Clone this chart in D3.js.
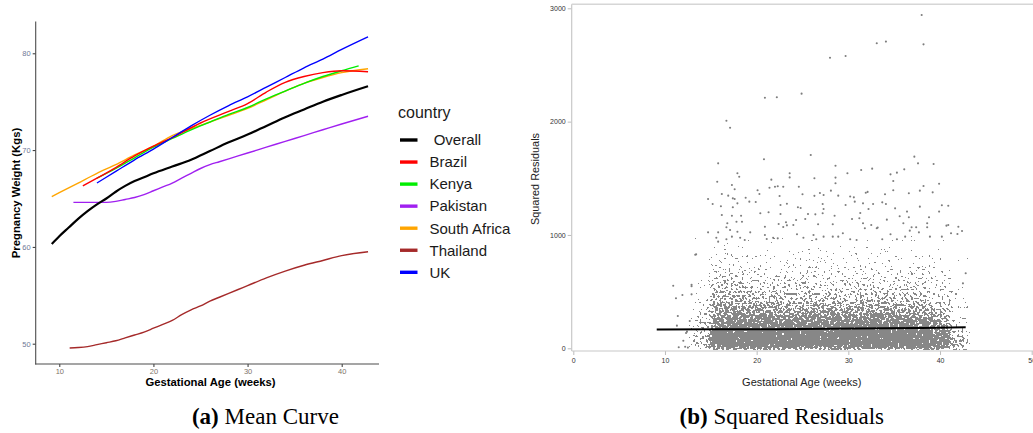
<!DOCTYPE html>
<html>
<head>
<meta charset="utf-8">
<script src="https://cdn.jsdelivr.net/npm/d3@7"></script>
<style>
body { margin: 0; background: #fff; }
svg { display: block; }
</style>
</head>
<body>
<script>
// ---- (a) mean curves: [gestational week, weight kg] ----
const overallCurve = [[9.2,60.3],[10,61.1],[11,62.0],[12,62.9],[13,63.7],[14,64.4],[15,65.0],[16,65.7],[17,66.3],[18,66.8],[19,67.2],[20,67.6],[22,68.3],[24,69.0],[26,69.9],[28,70.8],[30,71.6],[32,72.5],[34,73.4],[36,74.2],[38,75.0],[40,75.7],[42.8,76.6]];
const brazilCurve = [[12.5,66.3],[14,67.1],[16,68.2],[18,69.4],[20,70.4],[22,71.3],[25,72.8],[28,74.0],[30,74.8],[32,76.0],[34,77.0],[36,77.6],[38,78.0],[40,78.2],[42.8,78.1]];
const kenyaCurve = [[14,67.1],[16,68.1],[18,69.2],[20,70.3],[22,71.2],[24,72.1],[26,72.9],[28,73.7],[30,74.4],[32,75.3],[34,76.1],[36,76.9],[38,77.6],[40,78.2],[41.8,78.7]];
const pakistanCurve = [[11.5,64.6],[13,64.6],[15,64.6],[16,64.7],[17,64.9],[18,65.1],[19,65.4],[20,65.8],[21,66.2],[22,66.6],[23,67.1],[24,67.6],[25,68.1],[26,68.5],[27,68.8],[28,69.1],[30,69.7],[32,70.3],[34,70.9],[36,71.5],[38,72.1],[40,72.7],[42.8,73.5]];
const southAfricaCurve = [[9.2,65.2],[10,65.6],[12,66.6],[14,67.6],[16,68.5],[18,69.5],[20,70.4],[22,71.5],[24,72.2],[26,72.9],[28,73.6],[30,74.3],[32,75.2],[34,76.1],[36,76.9],[38,77.5],[40,78.0],[42.8,78.4]];
const thailandCurve = [[11.1,49.55],[12,49.6],[13,49.7],[14,49.9],[15,50.1],[16,50.3],[17,50.6],[18,50.9],[19,51.2],[20,51.6],[21,52.0],[22,52.4],[23,53.0],[24,53.5],[25,53.9],[26,54.4],[27,54.8],[28,55.2],[29,55.6],[30,56.0],[32,56.8],[34,57.5],[36,58.1],[38,58.6],[40,59.1],[42.8,59.5]];
const ukCurve = [[14,66.6],[16,67.8],[18,69.0],[20,70.1],[22,71.3],[24,72.5],[26,73.6],[28,74.6],[30,75.5],[32,76.5],[34,77.5],[36,78.5],[38,79.4],[40,80.4],[42.8,81.7]];

const countryNames = [" Overall", "Brazil", "Kenya", "Pakistan", "South Africa", "Thailand", "UK"];
const countryCurves = [overallCurve, brazilCurve, kenyaCurve, pakistanCurve, southAfricaCurve, thailandCurve, ukCurve];
const countryColors = ["#000000", "#ff0000", "#00ee00", "#a020f0", "#ffa500", "#a52a2a", "#0000ff"];
const meanXTicks = [10, 20, 30, 40];
const meanYTicks = [50, 60, 70, 80];

// ---- (b) squared residuals ----
// density of the dense cloud: 2-week bins x 100-unit bands
const densityBinStarts = [13, 15, 17, 19, 21, 23, 25, 27, 29, 31, 33, 35, 37, 39, 41];
const densityBands = [0, 100, 200, 300, 400, 500, 600, 700, 800, 900];
const densityRows = [
  [0.42,0.92,0.95,0.95,0.95,0.95,0.95,0.95,0.95,0.95,0.95,0.95,0.95,0.90,0.50],
  [0.32,0.86,0.90,0.90,0.90,0.90,0.90,0.90,0.90,0.90,0.90,0.90,0.88,0.76,0.32],
  [0.25,0.72,0.76,0.76,0.76,0.72,0.76,0.76,0.72,0.76,0.76,0.72,0.70,0.54,0.20],
  [0.18,0.58,0.58,0.55,0.55,0.52,0.54,0.54,0.52,0.55,0.55,0.52,0.52,0.40,0.13],
  [0.13,0.46,0.46,0.41,0.41,0.38,0.41,0.39,0.37,0.41,0.41,0.38,0.39,0.28,0.10],
  [0.10,0.40,0.36,0.30,0.30,0.28,0.30,0.29,0.28,0.29,0.30,0.28,0.29,0.21,0.08],
  [0.07,0.27,0.25,0.22,0.22,0.20,0.22,0.21,0.20,0.21,0.22,0.21,0.21,0.15,0.06],
  [0.05,0.18,0.18,0.15,0.15,0.14,0.14,0.14,0.13,0.14,0.14,0.14,0.14,0.11,0.04],
  [0.03,0.11,0.11,0.10,0.10,0.09,0.09,0.09,0.09,0.09,0.09,0.09,0.09,0.07,0.03],
  [0.02,0.06,0.06,0.05,0.05,0.05,0.05,0.05,0.05,0.05,0.05,0.05,0.05,0.04,0.02]
];
// individual points outside the dense cloud: [week, squared residual]
const outlierPoints = [
  [38.0,2941],[38.2,2682],[33.1,2691],[34.1,2706],[28.0,2564],[29.7,2579],[20.9,2211],[22.2,2215],[24.9,2247],[16.7,2008],[17.1,1946],
  [15.8,1632],[20.8,1668],[25.9,1706],[37.2,1691],[37.6,1632],[39.3,1626],
  [17.9,1544],[18.1,1514],[15.7,1470],[23.6,1544],[23.6,1508],[26.3,1500],[28.6,1611],[28.6,1506],[28.6,1456],[29.9,1544],[31.4,1573],[32.6,1585],[34.6,1535],[35.3,1550],[36.1,1579],[34.9,1476],[39.9,1452],[21.6,1488],
  [17.3,1441],[17.6,1403],[16.2,1362],[16.9,1347],[17.4,1323],[18.8,1329],[20.1,1394],[20.3,1362],[21.4,1417],[22.0,1425],[22.3,1430],[22.9,1426],[22.5,1344],[24.6,1426],[25.0,1359],[26.3,1345],[26.9,1370],[27.3,1352],[28.1,1391],[28.9,1347],[30.2,1340],[31.9,1372],[32.1,1380],[34.0,1359],[34.9,1394],[36.6,1368],[37.8,1391],[38.2,1432],[39.2,1376],
  [14.7,1317],[15.2,1273],[16.1,1253],[17.4,1244],[17.6,1317],[17.9,1279],[19.2,1294],[19.9,1291],[22.6,1264],[23.3,1276],[24.5,1244],[24.8,1238],[27.2,1273],[27.3,1229],[29.7,1264],[30.6,1332],[30.7,1294],[31.6,1279],[32.7,1273],[32.2,1229],[33.7,1288],[34.1,1273],[35.1,1235],[36.4,1206],[37.8,1250],[39.9,1206],[40.2,1262],[40.9,1258],
  [16.2,1176],[17.3,1170],[18.3,1170],[17.8,1117],[16.8,1103],[18.4,1117],[20.4,1191],[21.3,1200],[22.6,1185],[25.6,1185],[26.4,1182],[27.2,1191],[24.3,1132],[25.3,1141],[28.5,1170],[30.4,1141],[31.2,1147],[31.3,1194],[34.2,1135],[35.6,1165],[36.6,1156],[38.8,1156],
  [22.4,1097],[22.9,1070],[23.2,1112],[23.3,1085],[24.0,1088],[26.7,1094],[28.3,1094],[31.6,1103],[32.5,1088],[33.1,1059],[36.0,1103],[38.6,1103],[38.6,1068],[37.4,1068],[40.7,1082],[42.0,1073],[40.9,1088],[41.9,1008],
  [14.7,1023],[15.8,1023],[16.7,1068],[17.1,1044],[17.9,1029],[17.3,985],[18.2,976],[18.7,956],[19.3,1023],[15.6,976],[15.8,941],[16.7,962],[20.9,1073],[20.9,1000],[21.1,964],[21.8,976],[22.3,970],[24.4,1006],[25.1,976],[26.2,1000],[26.5,962],[27.3,985],[28.3,985],[28.9,985],[29.4,1015],[30.2,962],[30.9,956],[31.8,1059],[33.2,1065],[33.7,962],[34.6,1006],[35.3,962],[36.2,985],[36.7,1038],[36.9,1068],[37.7,1023],[38.9,985],[40.2,985],[41.2,1015],[42.4,1035],
  [13.4,829],[10.9,552],[11.2,441],[11.9,470],[12.9,560],[12.9,548],[12.9,476],[11.4,285],[11.3,200],[12.7,241],[12.4,147],[12.0,67],[12.3,135],[11.5,9],[12.2,14],[12.5,6],[13.3,826],[42.8,662],[42.5,573]
];
const trendLine = [[9.1,165],[16,167],[22,169],[28,172],[34,176],[38,180],[42.8,185]];
const residXTicks = [0, 10, 20, 30, 40, 50];
const residYTicks = [0, 1000, 2000, 3000];

const svg = d3.select("body").append("svg")
  .attr("width", 1033)
  .attr("height", 433)
  .style("font-family", "'Liberation Sans', Arial, sans-serif");

// ================= panel (a) =================
const xL = d3.scaleLinear().domain([10, 40]).range([59.3, 341.7]);
const yL = d3.scaleLinear().domain([50, 80]).range([343.7, 53.3]);

const axL = svg.append("g").attr("transform", "translate(35.7,0)")
  .call(d3.axisLeft(yL).tickValues(meanYTicks).tickSize(3).tickPadding(2));
axL.select(".domain").remove();
axL.selectAll("line").attr("stroke", "#333");
axL.selectAll("text").attr("font-size", 7.5).attr("fill", "#6f7896")
  .attr("font-family", "'Liberation Sans', Arial, sans-serif");

const axB = svg.append("g").attr("transform", "translate(0,364)")
  .call(d3.axisBottom(xL).tickValues(meanXTicks).tickSize(3).tickPadding(2));
axB.select(".domain").remove();
axB.selectAll("line").attr("stroke", "#333");
axB.selectAll("text").attr("font-size", 7.5).attr("fill", "#7e7468")
  .attr("font-family", "'Liberation Sans', Arial, sans-serif");

svg.append("line").attr("x1", 35.7).attr("x2", 35.7).attr("y1", 21.5).attr("y2", 364.5)
  .attr("stroke", "#4d4d4d").attr("stroke-width", 1.1);
svg.append("line").attr("x1", 35.2).attr("x2", 379).attr("y1", 364).attr("y2", 364)
  .attr("stroke", "#4d4d4d").attr("stroke-width", 1.1);

const lineL = d3.line().x(d => xL(d[0])).y(d => yL(d[1])).curve(d3.curveMonotoneX);
const drawOrder = [5, 3, 4, 2, 1, 6, 0];
drawOrder.forEach(i => {
  svg.append("path")
    .datum(countryCurves[i])
    .attr("d", lineL)
    .attr("fill", "none")
    .attr("stroke", countryColors[i])
    .attr("stroke-width", i === 0 ? 2.2 : 1.4);
});

svg.append("text").attr("transform", "translate(20,193) rotate(-90)")
  .attr("text-anchor", "middle").attr("font-size", 11.3).attr("font-weight", "bold")
  .text("Pregnancy Weight (Kgs)");
svg.append("text").attr("x", 210.5).attr("y", 385.5)
  .attr("text-anchor", "middle").attr("font-size", 11.3).attr("font-weight", "bold")
  .text("Gestational Age (weeks)");

// legend
const legend = svg.append("g");
legend.append("text").attr("x", 398).attr("y", 117.5).attr("font-size", 16).attr("fill", "#1a1a1a").text("country");
countryNames.forEach((name, i) => {
  const cy = 140 + i * 22.05;
  legend.append("line").attr("x1", 400).attr("x2", 417.5).attr("y1", cy).attr("y2", cy)
    .attr("stroke", countryColors[i]).attr("stroke-width", 3.4);
  legend.append("text").attr("x", 429.5).attr("y", cy + 5.3).attr("font-size", 15)
    .attr("fill", "#1a1a1a").style("white-space", "pre").text(name);
});

// ================= panel (b) =================
const xR = d3.scaleLinear().domain([0, 50]).range([573.3, 1031.7]);
const yR = d3.scaleLinear().domain([0, 3000]).range([348.3, 8.3]);

const defs = svg.append("defs");
defs.append("clipPath").attr("id", "residClip").append("rect")
  .attr("x", 572).attr("y", 5).attr("width", 461).attr("height", 345);

// speckle texture so the binned density reads like a cloud of dots
const speckle = defs.append("filter").attr("id", "speckle")
  .attr("filterUnits", "userSpaceOnUse")
  .attr("x", 560).attr("y", 0).attr("width", 473).attr("height", 352)
  .attr("color-interpolation-filters", "sRGB");
speckle.append("feGaussianBlur").attr("in", "SourceGraphic").attr("stdDeviation", 3).attr("result", "blur");
speckle.append("feTurbulence").attr("type", "fractalNoise").attr("baseFrequency", 0.45)
  .attr("numOctaves", 1).attr("seed", 7).attr("result", "turb");
speckle.append("feColorMatrix").attr("in", "turb").attr("type", "matrix")
  .attr("values", "0 0 0 0 0  0 0 0 0 0  0 0 0 0 0  2.0 0 0 0 -0.5").attr("result", "noise");
speckle.append("feComposite").attr("in", "blur").attr("in2", "noise").attr("operator", "arithmetic")
  .attr("k1", 0).attr("k2", 4).attr("k3", -4).attr("k4", 0.46).attr("result", "diff");
speckle.append("feComponentTransfer").attr("in", "diff").attr("result", "mask")
  .append("feFuncA").attr("type", "discrete").attr("tableValues", "0 1");
speckle.append("feFlood").attr("flood-color", "#878787").attr("result", "col");
speckle.append("feComposite").attr("in", "col").attr("in2", "mask").attr("operator", "in");

const cloud = svg.append("g").attr("clip-path", "url(#residClip)").append("g").attr("filter", "url(#speckle)");
densityRows.forEach((row, r) => {
  const lo = densityBands[r] === 0 ? -12 : densityBands[r];
  const hi = densityBands[r] + 100;
  row.forEach((dens, c) => {
    const x0 = densityBinStarts[c];
    cloud.append("rect")
      .attr("x", xR(x0)).attr("width", xR(x0 + 2) - xR(x0))
      .attr("y", yR(hi)).attr("height", yR(lo) - yR(hi))
      .attr("fill", "#808080").attr("fill-opacity", dens);
  });
});

svg.append("g").selectAll("circle")
  .data(outlierPoints)
  .enter()
  .append("circle")
  .attr("cx", d => xR(d[0]))
  .attr("cy", d => yR(d[1]))
  .attr("r", 1.05)
  .attr("fill", "#7d7d7d");

svg.append("path").datum(trendLine)
  .attr("d", d3.line().x(d => xR(d[0])).y(d => yR(d[1])))
  .attr("fill", "none").attr("stroke", "#000").attr("stroke-width", 2);

// axes (light grey frame)
const ayR = svg.append("g").attr("transform", "translate(571.7,0)")
  .call(d3.axisLeft(yR).tickValues(residYTicks).tickFormat(d3.format("d")).tickSize(4).tickPadding(2));
ayR.select(".domain").remove();
ayR.selectAll("line").attr("stroke", "#bdbdbd");
ayR.selectAll("text").attr("font-size", 7).attr("fill", "#333")
  .attr("font-family", "'Liberation Sans', Arial, sans-serif");

const axR = svg.append("g").attr("transform", "translate(0,351)")
  .call(d3.axisBottom(xR).tickValues(residXTicks).tickFormat(d3.format("d")).tickSize(4).tickPadding(3));
axR.select(".domain").remove();
axR.selectAll("line").attr("stroke", "#bdbdbd");
axR.selectAll("text").attr("font-size", 7).attr("fill", "#333")
  .attr("font-family", "'Liberation Sans', Arial, sans-serif");

svg.append("line").attr("x1", 571.7).attr("x2", 571.7).attr("y1", 4.3).attr("y2", 351)
  .attr("stroke", "#c8c8c8").attr("stroke-width", 1.2);
svg.append("line").attr("x1", 571.7).attr("x2", 1033).attr("y1", 351).attr("y2", 351)
  .attr("stroke", "#c8c8c8").attr("stroke-width", 1.2);
svg.append("line").attr("x1", 571.7).attr("x2", 1033).attr("y1", 4.3).attr("y2", 4.3)
  .attr("stroke", "#d6d6d6").attr("stroke-width", 1.5);

svg.append("text").attr("transform", "translate(539,179) rotate(-90)")
  .attr("text-anchor", "middle").attr("font-size", 10.9).attr("fill", "#222")
  .text("Squared Residuals");
svg.append("text").attr("x", 801.7).attr("y", 386)
  .attr("text-anchor", "middle").attr("font-size", 11).attr("fill", "#222")
  .text("Gestational Age (weeks)");

// captions
const caption = (cx, label, rest) => {
  const t = svg.append("text").attr("x", cx).attr("y", 424.3).attr("text-anchor", "middle")
    .attr("font-family", "'Liberation Serif', 'Times New Roman', serif").attr("font-size", 23).attr("fill", "#000");
  t.append("tspan").attr("font-weight", "bold").text(label);
  t.append("tspan").text(" " + rest);
};
caption(265.4, "(a)", "Mean Curve");
caption(781.8, "(b)", "Squared Residuals");
</script>
</body>
</html>
